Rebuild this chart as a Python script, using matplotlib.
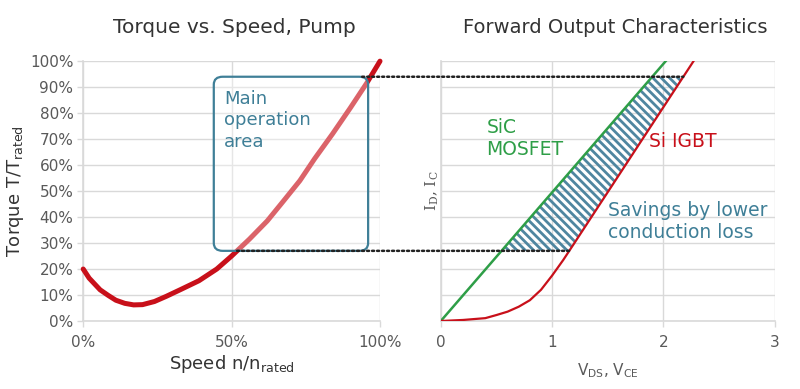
import numpy as np
import matplotlib
matplotlib.use("Agg")
import matplotlib.pyplot as plt
from matplotlib.patches import FancyBboxPatch, ConnectionPatch

# left chart: pump torque vs speed (percent)
speed = [0, 2, 5.7, 8.5, 11, 14, 17, 20, 24, 28, 33, 39, 45, 50, 56, 62, 67, 73, 78, 84, 90, 95.5, 100]
torque = [20, 16.5, 12, 9.8, 8, 6.8, 6.2, 6.3, 7.5, 9.5, 12.2, 15.5, 20, 25, 31.5, 38.5, 45.5, 54, 62.5, 72, 82, 91.5, 100]

# operating window (speed %, torque %)
box_x = [44, 96]
box_y = [27, 94]

# right chart: forward characteristics, V vs I (% of top)
sic_v = [0, 2.02]
sic_i = [0, 100]
igbt_v = [0, 0.2, 0.4, 0.5, 0.6, 0.7, 0.8, 0.9, 1.0, 1.1, 1.2, 2.27]
igbt_i = [0, 0.4, 1.1, 2.3, 3.6, 5.5, 8, 12, 17.5, 23.5, 30, 100]

grid_c = "#d9d9d9"
tick_c = "#595959"
teal = "#3f7f97"
green = "#2e9e47"
red = "#c8101a"

plt.rcParams["hatch.linewidth"] = 2.0
plt.rcParams["font.family"] = "DejaVu Sans"

fig = plt.figure(figsize=(8, 3.89), dpi=100)
ax1 = fig.add_axes([0.104, 0.1748, 0.371, 0.668])
ax2 = fig.add_axes([0.551, 0.1748, 0.4175, 0.668])

for ax in (ax1, ax2):
    for s in ("top", "right"):
        ax.spines[s].set_visible(False)
    for s in ("left", "bottom"):
        ax.spines[s].set_color(grid_c)
        ax.spines[s].set_linewidth(1.2)
    ax.grid(True, color=grid_c, linewidth=1.0)
    ax.set_axisbelow(True)
    ax.tick_params(colors=grid_c, labelcolor=tick_c, length=4, width=1)
    ax.set_ylim(0, 100)
    ax.set_yticks(np.arange(0, 101, 10))

# --- left
ax1.set_xlim(0, 100)
ax1.set_xticks([0, 50, 100])
ax1.set_xticklabels(["0%", "50%", "100%"], fontsize=11)
ax1.set_yticklabels([f"{v}%" for v in range(0, 101, 10)], fontsize=11)
ax1.tick_params(axis="x", pad=6)
ax1.tick_params(axis="y", pad=3)
ax1.plot(speed, torque, color=red, linewidth=3.6, solid_capstyle="round", zorder=3, clip_on=False)

box = FancyBboxPatch((box_x[0], box_y[0]), box_x[1] - box_x[0], box_y[1] - box_y[0],
                     boxstyle="round,pad=0,rounding_size=3", facecolor="white", alpha=0.35,
                     edgecolor="none", zorder=4)
ax1.add_patch(box)
edge = FancyBboxPatch((box_x[0], box_y[0]), box_x[1] - box_x[0], box_y[1] - box_y[0],
                      boxstyle="round,pad=0,rounding_size=3", facecolor="none",
                      edgecolor=teal, linewidth=1.6, zorder=5)
ax1.add_patch(edge)
ax1.text(box_x[0] + 3.5, box_y[1] - 5, "Main\noperation\narea", color=teal, fontsize=13,
         va="top", ha="left", linespacing=1.25, zorder=6)

ax1.set_xlabel("Speed n/n$_\\mathregular{rated}$", fontsize=13, color="#333333", labelpad=2)
ax1.set_ylabel("Torque T/T$_\\mathregular{rated}$", fontsize=13, color="#333333", labelpad=3)

# --- right
ax2.set_xlim(0, 3)
ax2.set_xticks([0, 1, 2, 3])
ax2.set_xticklabels(["0", "1", "2", "3"], fontsize=11)
ax2.tick_params(axis="x", pad=6)
ax2.tick_params(axis="y", length=0, labelleft=False)

yfill = np.linspace(box_y[0], box_y[1], 40)
x_sic = np.interp(yfill, sic_i, sic_v)
x_igbt = np.interp(yfill, igbt_i, igbt_v)
ax2.fill_betweenx(yfill, x_sic, x_igbt, facecolor="none", edgecolor="#4f86a0",
                  hatch="\\\\\\\\", linewidth=0, zorder=2)

ax2.plot(sic_v, sic_i, color=green, linewidth=1.8, zorder=3)
ax2.plot(igbt_v, igbt_i, color=red, linewidth=1.6, zorder=3)

ax2.text(0.41, 78, "SiC\nMOSFET", color=green, fontsize=13.5, va="top", ha="left", linespacing=1.2)
ax2.text(1.87, 69, "Si IGBT", color=red, fontsize=13.5, va="center", ha="left")
ax2.text(1.5, 46, "Savings by lower\nconduction loss", color=teal, fontsize=13.5,
         va="top", ha="left", linespacing=1.2)

ax2.set_xlabel("V$_\\mathregular{DS}$, V$_\\mathregular{CE}$", fontsize=11, color=tick_c, labelpad=8)
ax2.set_ylabel("I$_\\mathregular{D}$, I$_\\mathregular{C}$", fontsize=11, color=tick_c,
               family="DejaVu Serif", labelpad=0)

# dotted links between the charts
top_end = np.interp(box_y[1], igbt_i, igbt_v)
bot_end = np.interp(box_y[0], igbt_i, igbt_v)
bot_start = np.interp(box_y[0], torque[8:], speed[8:])
for xa, xb, y in [(box_x[1] - 2, top_end, box_y[1]), (bot_start, bot_end, box_y[0])]:
    con = ConnectionPatch(xyA=(xa, y), coordsA=ax1.transData, xyB=(xb, y), coordsB=ax2.transData,
                          linestyle=(0, (0.8, 1.2)), color="#222222", linewidth=1.8, zorder=7)
    fig.add_artist(con)

fig.text(0.2925, 0.93, "Torque vs. Speed, Pump", fontsize=14.5, color="#333333", ha="center", va="center")
fig.text(0.769, 0.93, "Forward Output Characteristics", fontsize=14, color="#333333", ha="center", va="center")

fig.savefig("out.png", dpi=100)
